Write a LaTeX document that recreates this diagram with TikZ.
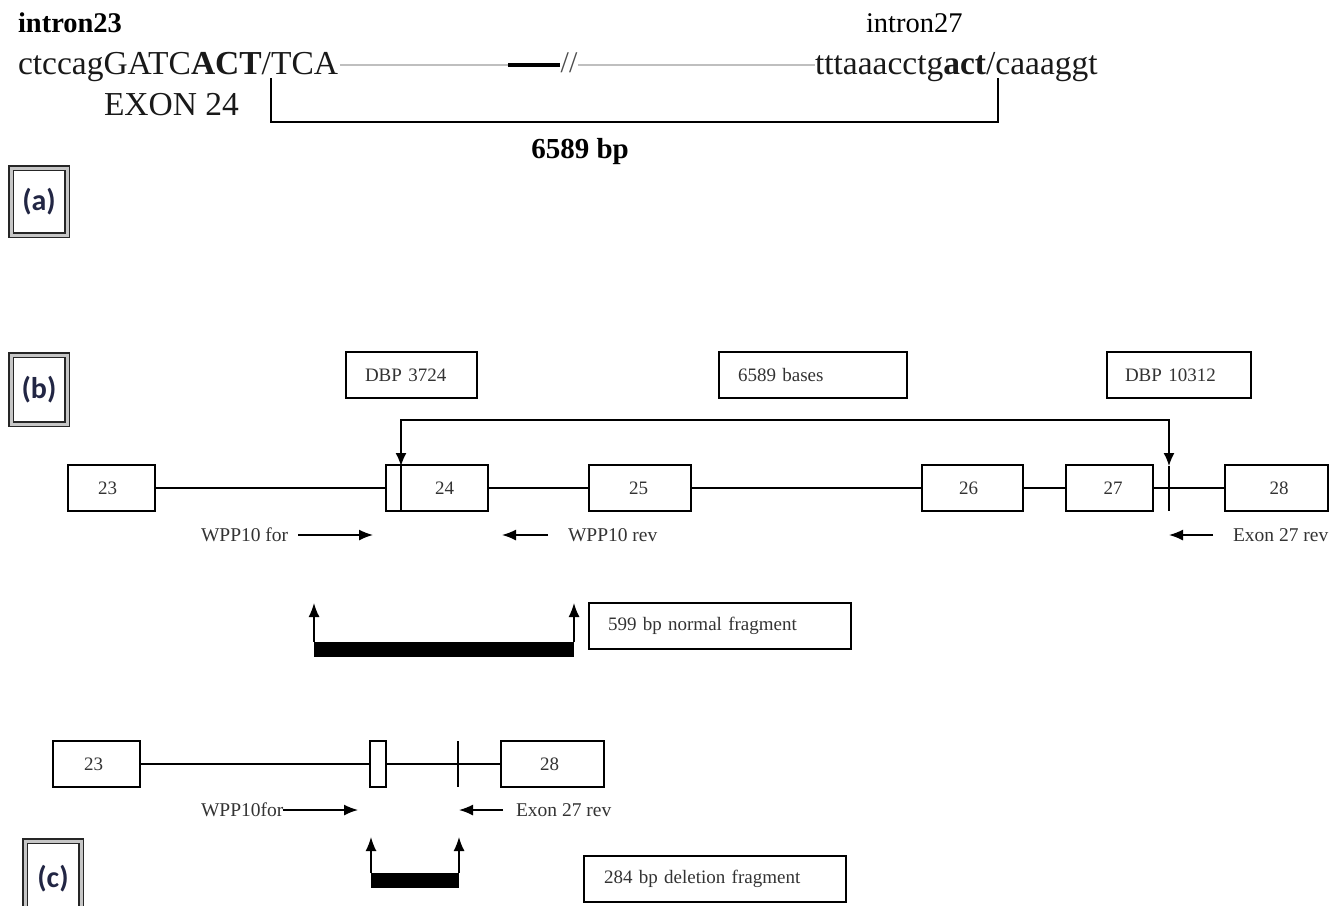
\documentclass[tikz,border=0pt]{standalone}
\usepackage{fontspec}
\setmainfont{Liberation Serif}
\newfontfamily\labfont{Carlito}
\usetikzlibrary{arrows.meta}
\definecolor{navy}{RGB}{34,38,68}
\begin{document}
\begin{tikzpicture}[x=1pt,y=-1pt,
  every node/.style={inner sep=0pt, outer sep=0pt},
  exon/.style={draw, line width=1.5pt, minimum height=46pt, anchor=north west,
    font=\fontsize{19}{22}\selectfont, text=black!80},
  lab/.style={draw, line width=1.5pt, minimum height=46pt, anchor=north west,
    align=left, font=\fontsize{19}{22}\selectfont, text=black!80},
  txt/.style={font=\fontsize{19.5}{22}\selectfont, text=black!80},
  seq/.style={font=\fontsize{33.5}{40}\selectfont, text=black!90},
  gl/.style={line width=1.5pt},
  arr/.style={line width=1.5pt, -{Latex[length=14pt,width=11pt]}},
  dblarr/.style={line width=1.5pt, {Latex[length=13pt,width=11pt]}-{Latex[length=13pt,width=11pt]}},
  barf/.style={fill=black, minimum height=15pt, anchor=north west},
  panel/.style={draw=black!85, double=gray!45, double distance=3pt, line width=1.4pt,
    minimum width=56pt, anchor=north west, text=navy,
    font=\labfont\bfseries\fontsize{30}{34}\selectfont}]
\useasboundingbox (0,0) rectangle (1341,905);
\clip (0,0) rectangle (1341,905);

% ---------- (a) ----------
\node[anchor=base west, font=\bfseries\fontsize{28.5}{32}\selectfont] (i23) at (18,32) {intron23};
\node[anchor=base west, font=\fontsize{28.5}{32}\selectfont] (i27) at (866,32) {intron27};
\node[seq, anchor=base west] (s1) at (18,74) {ctccagGATC\textbf{ACT}/TCA};
\node[seq, anchor=base west] (s2) at (815,74) {tttaaacctg\textbf{act}/caaaggt};
\node[seq, anchor=base west] (ex24) at (104,115) {EXON 24};
\node[anchor=base, font=\bfseries\fontsize{29}{32}\selectfont] (bp) at (580,158) {6589 bp};
\coordinate (g1) at (340,65);
\coordinate (g2) at (508,65);
\coordinate (g3) at (560,65);
\coordinate (g4) at (578,65);
\coordinate (g5) at (815,65);
\draw[gray!50, line width=2.8pt] (g1) -- (g2);
\draw[black, line width=3.5pt] (g2) -- (g3);
\node[font=\fontsize{30}{32}\selectfont, text=black!70] (brk) at (569,63) {//};
\draw[gray!50, line width=2.8pt] (g4) -- (g5);
\coordinate (b1) at (271,78);
\coordinate (b2) at (998,78);
\draw[line width=1.8pt] (b1) -- (271,122) -- (998,122) -- (b2);
\node[panel, minimum height=67pt] (pa) at (11,168) {(a)};

% ---------- (b) ----------
\node[panel, minimum height=69pt] (pb) at (11,355) {(b)};
\node[lab, text width=93pt, inner xsep=19pt] (l1) at (346,352) {DBP\ 3724};
\node[lab, text width=150pt, inner xsep=19pt] (l2) at (719,352) {6589 bases};
\node[lab, text width=108pt, inner xsep=18pt] (l3) at (1107,352) {DBP 10312};

\node[exon, minimum width=87pt] (e23) at (68,465) {\hspace*{-8pt}23};
\node[exon, minimum width=102pt] (e24) at (386,465) {\hspace*{15pt}24};
\node[exon, minimum width=102pt] (e25) at (589,465) {\hspace*{-3pt}25};
\node[exon, minimum width=101pt] (e26) at (922,465) {\hspace*{-8pt}26};
\node[exon, minimum width=87pt] (e27) at (1066,465) {\hspace*{7pt}27};
\node[exon, minimum width=103pt] (e28) at (1225,465) {\hspace*{5pt}28};
\draw[gl] (e23.east) -- (e24.west);
\draw[gl] (e24.east) -- (e25.west);
\draw[gl] (e25.east) -- (e26.west);
\draw[gl] (e26.east) -- (e27.west);
\draw[gl] (e27.east) -- (e28.west);

\coordinate (t1) at (401,466);
\coordinate (t2) at (1169,466);
\draw[dblarr] (t1) -- (401,420) -- (1169,420) -- (t2);
\draw[gl] (t1) -- (t1 |- e24.south);
\draw[gl] (t2) -- (t2 |- e28.south);

\node[txt, anchor=west] (wf) at (201,535) {WPP10 for};
\coordinate (wfa) at (298,535);
\coordinate (wfb) at (373,535);
\draw[arr] (wfa) -- (wfb);
\node[txt, anchor=west] (wr) at (568,535) {WPP10 rev};
\coordinate (wra) at (548,535);
\coordinate (wrb) at (502,535);
\draw[arr] (wra) -- (wrb);
\node[txt, anchor=west] (er) at (1233,535) {Exon 27 rev};
\coordinate (era) at (1213,535);
\coordinate (erb) at (1169,535);
\draw[arr] (era) -- (erb);

\node[barf, minimum width=260pt] (f1) at (314,642) {};
\draw[arr] (f1.north west) -- ++(0,-39);
\draw[arr] (f1.north east) -- ++(0,-39);
\node[lab, text width=224pt, inner xsep=19pt] (l4) at (589,603) {599 bp normal fragment};

% ---------- (c) ----------
\node[exon, minimum width=87pt] (c23) at (53,741) {\hspace*{-6pt}23};
\node[exon, minimum width=16pt] (cs) at (370,741) {};
\node[exon, minimum width=103pt] (c28) at (501,741) {\hspace*{-6pt}28};
\draw[gl] (c23.east) -- (cs.west);
\draw[gl] (cs.east) -- (c28.west);
\coordinate (ct) at (458,741);
\draw[gl] (ct) -- (ct |- c28.south);

\node[txt, anchor=west] (cwf) at (201,810) {WPP10for};
\coordinate (cwb) at (358,810);
\draw[arr] (cwf.east) -- (cwb);
\node[txt, anchor=west] (cer) at (516,810) {Exon 27 rev};
\coordinate (cera) at (503,810);
\coordinate (cerb) at (459,810);
\draw[arr] (cera) -- (cerb);

\node[barf, minimum width=88pt] (f2) at (371,873) {};
\draw[arr] (f2.north west) -- ++(0,-36);
\draw[arr] (f2.north east) -- ++(0,-36);
\node[lab, text width=222pt, inner xsep=20pt] (l5) at (584,856) {284 bp deletion fragment};
\node[panel, minimum height=75pt] (pc) at (25,841) {(c)};
\end{tikzpicture}
\end{document}
